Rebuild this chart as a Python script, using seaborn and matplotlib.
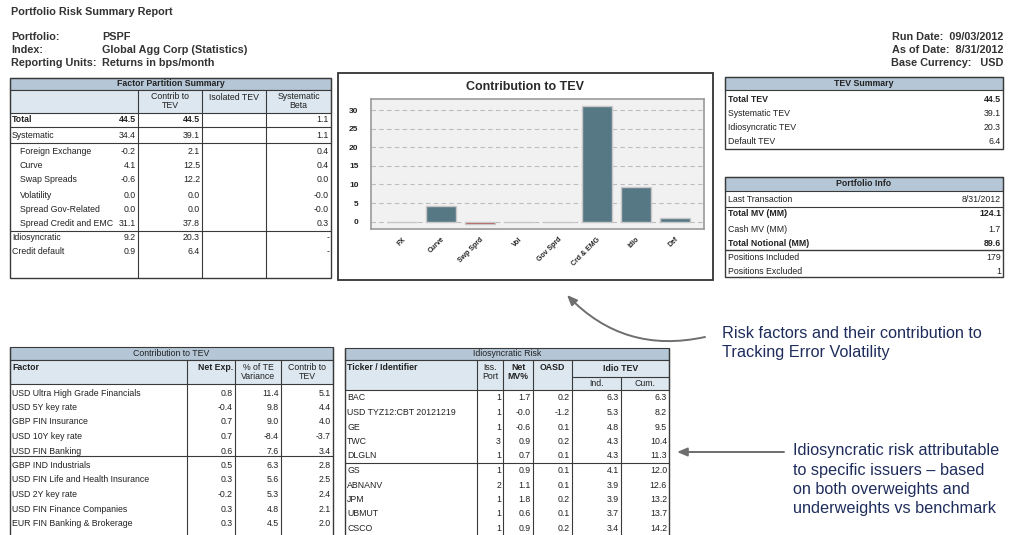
import matplotlib
matplotlib.use("Agg")
import matplotlib.pyplot as plt
import seaborn as sns
import pandas as pd
from matplotlib.patches import Rectangle

sns.set_style("white")
plt.rcParams['font.family'] = ['Liberation Sans', 'DejaVu Sans']

# ---------------- data ----------------
chart_categories = ["FX", "Curve", "Swp Sprd", "Vol", "Gov Sprd", "Crd & EMG", "Idio", "Def"]
chart_contrib = [-0.2, 4.1, -0.6, 0.0, 0.0, 31.1, 9.2, 0.9]

fp_rows = ["Total", "Systematic", "Foreign Exchange", "Curve", "Swap Spreads", "Volatility",
           "Spread Gov-Related", "Spread Credit and EMC", "Idiosyncratic", "Credit default"]
fp_contrib = ["44.5", "34.4", "-0.2", "4.1", "-0.6", "0.0", "0.0", "31.1", "9.2", "0.9"]
fp_isolated = ["44.5", "39.1", "2.1", "12.5", "12.2", "0.0", "0.0", "37.8", "20.3", "6.4"]
fp_beta = ["1.1", "1.1", "0.4", "0.4", "0.0", "-0.0", "-0.0", "0.3", "-", "-"]

tev_labels = ["Total TEV", "Systematic TEV", "Idiosyncratic TEV", "Default TEV"]
tev_values = ["44.5", "39.1", "20.3", "6.4"]

pi_labels = ["Last Transaction", "Total MV (MM)", "Cash MV (MM)", "Total Notional (MM)",
             "Positions Included", "Positions Excluded"]
pi_values = ["8/31/2012", "124.1", "1.7", "89.6", "179", "1"]

ct_factors = ["USD Ultra High Grade Financials", "USD 5Y key rate", "GBP FIN Insurance",
              "USD 10Y key rate", "USD FIN Banking", "GBP IND Industrials",
              "USD FIN Life and Health Insurance", "USD 2Y key rate",
              "USD FIN Finance Companies", "EUR FIN Banking & Brokerage"]
ct_net_exp = ["0.8", "-0.4", "0.7", "0.7", "0.6", "0.5", "0.3", "-0.2", "0.3", "0.3"]
ct_pct_var = ["11.4", "9.8", "9.0", "-8.4", "7.6", "6.3", "5.6", "5.3", "4.8", "4.5"]
ct_contrib = ["5.1", "4.4", "4.0", "-3.7", "3.4", "2.8", "2.5", "2.4", "2.1", "2.0"]

ir_tickers = ["BAC", "USD TYZ12:CBT 20121219", "GE", "TWC", "DLGLN", "GS", "ABNANV",
              "JPM", "UBMUT", "CSCO"]
ir_iss = ["1", "1", "1", "3", "1", "1", "2", "1", "1", "1"]
ir_netmv = ["1.7", "-0.0", "-0.6", "0.9", "0.7", "0.9", "1.1", "1.8", "0.6", "0.9"]
ir_oasd = ["0.2", "-1.2", "0.1", "0.2", "0.1", "0.1", "0.1", "0.2", "0.1", "0.2"]
ir_ind = ["6.3", "5.3", "4.8", "4.3", "4.3", "4.1", "3.9", "3.9", "3.7", "3.4"]
ir_cum = ["6.3", "8.2", "9.5", "10.4", "11.3", "12.0", "12.6", "13.2", "13.7", "14.2"]

# ---------------- figure ----------------
W, H = 1010, 535
fig = plt.figure(figsize=(W / 100, H / 100), dpi=100)
fig.patch.set_facecolor("white")
ov = fig.add_axes([0, 0, 1, 1])
ov.set_xlim(0, W)
ov.set_ylim(H, 0)
ov.axis("off")

TXT = "#222222"
LINE = "#3a3a3a"
HDR = "#b5c7d7"
SUB = "#dce7ef"
FS = 6.3
HFS = 7.8
HCOL = "#333333"


def T(x, y, s, ha="left", fs=FS, bold=False, color=TXT, **kw):
    ov.text(x, y, s, ha=ha, va="center", fontsize=fs,
            fontweight="bold" if bold else "normal", color=color, **kw)


def hl(x0, x1, y, lw=0.8):
    ov.plot([x0, x1], [y, y], color=LINE, lw=lw, solid_capstyle="butt")


def vl(x, y0, y1, lw=0.8):
    ov.plot([x, x], [y0, y1], color=LINE, lw=lw, solid_capstyle="butt")


def box(x0, y0, x1, y1, fc, lw=0.8):
    ov.add_patch(Rectangle((x0, y0), x1 - x0, y1 - y0, facecolor=fc,
                           edgecolor=LINE, lw=lw))


# ---- header texts ----
T(11, 12, "Portfolio Risk Summary Report", fs=HFS, bold=True, color=HCOL)
for y, a, b in [(37, "Portfolio:", "PSPF"), (50, "Index:", "Global Agg Corp (Statistics)"),
                (62.5, "Reporting Units:", "Returns in bps/month")]:
    T(11, y, a, fs=HFS, bold=True, color=HCOL)
    T(102, y, b, fs=HFS, bold=True, color=HCOL)
T(1003, 37, "Run Date:  09/03/2012", ha="right", fs=HFS, bold=True, color=HCOL)
T(1003, 50, "As of Date:  8/31/2012", ha="right", fs=HFS, bold=True, color=HCOL)
T(1003, 62.5, "Base Currency:   USD", ha="right", fs=HFS, bold=True, color=HCOL)

# ---- Factor Partition Summary ----
L, R = 10, 331
cols = [138, 202, 266]
box(L, 78, R, 90, HDR)
T((L + R) / 2, 84, "Factor Partition Summary", ha="center", bold=True)
box(L, 90, R, 113, SUB)
for c in cols:
    vl(c, 90, 278)
T((138 + 202) / 2, 101, "Contrib to\nTEV", ha="center", linespacing=0.95)
T((202 + 266) / 2, 98, "Isolated TEV", ha="center")
T((266 + R) / 2, 101, "Systematic\nBeta", ha="center", linespacing=0.95)
fp_y = [120, 135, 151, 165, 180, 195, 210, 224, 238, 252]
for i, (lab, a, b, c) in enumerate(zip(fp_rows, fp_contrib, fp_isolated, fp_beta)):
    y = fp_y[i]
    indent = 20 if 2 <= i <= 7 else 12
    T(indent, y, lab, bold=(i == 0))
    T(136, y, a, ha="right", bold=(i == 0))
    T(200, y, b, ha="right", bold=(i == 0))
    T(329, y, c, ha="right")
for y in [127, 143, 231]:
    hl(L, R, y)
ov.add_patch(Rectangle((L, 78), R - L, 200, facecolor="none", edgecolor=LINE, lw=1.0))

# ---- Chart box ----
ov.add_patch(Rectangle((338, 73), 375, 207, facecolor="white", edgecolor="#333333", lw=1.3))
T(525, 87, "Contribution to TEV", ha="center", fs=9, bold=True, color="#2a2a2a")

# ---- TEV Summary ----
L2, R2 = 725, 1003
box(L2, 77, R2, 90, HDR)
T((L2 + R2) / 2, 83.5, "TEV Summary", ha="center", bold=True)
for i, (lab, v) in enumerate(zip(tev_labels, tev_values)):
    y = 99 + i * 14.3
    T(L2 + 3, y, lab, bold=(i == 0))
    T(R2 - 2, y, v, ha="right", bold=(i == 0))
ov.add_patch(Rectangle((L2, 77), R2 - L2, 72, facecolor="none", edgecolor=LINE, lw=1.0))

# ---- Portfolio Info ----
box(L2, 177, R2, 191, HDR)
T((L2 + R2) / 2, 184, "Portfolio Info", ha="center", bold=True)
pi_y = [199, 214, 229, 243, 258, 272]
for i, (lab, v) in enumerate(zip(pi_labels, pi_values)):
    b = i in (1, 3)
    T(L2 + 3, pi_y[i], lab, bold=b)
    T(R2 - 2, pi_y[i], v, ha="right", bold=b)
hl(L2, R2, 206.5)
hl(L2, R2, 250, lw=1.0)
ov.add_patch(Rectangle((L2, 177), R2 - L2, 100, facecolor="none", edgecolor=LINE, lw=1.0))

# ---- Callouts ----
NAVY = "#1f2d5c"
CFS = 11.7
T(722, 334, "Risk factors and their contribution to", fs=CFS, color=NAVY)
T(722, 353, "Tracking Error Volatility", fs=CFS, color=NAVY)
for k, s in enumerate(["Idiosyncratic risk attributable", "to specific issuers \u2013 based",
                       "on both overweights and", "underweights vs benchmark"]):
    T(793, 451 + k * 19.2, s, fs=CFS, color=NAVY)
ov.annotate("", xy=(567, 295), xytext=(705, 337),
            arrowprops=dict(arrowstyle="-|>,head_length=0.6,head_width=0.25", color="#6e6e6e",
                            lw=1.4, connectionstyle="arc3,rad=-0.28", shrinkA=0, shrinkB=0))
ov.annotate("", xy=(677, 452), xytext=(784, 452),
            arrowprops=dict(arrowstyle="-|>,head_length=0.6,head_width=0.25", color="#6e6e6e",
                            lw=1.4, shrinkA=0, shrinkB=0))

# ---- Contribution to TEV table ----
L3, R3 = 10, 333
c3 = [187, 235, 281]
box(L3, 347, R3, 360, HDR)
T((L3 + R3) / 2, 353.5, "Contribution to TEV", ha="center")
box(L3, 360, R3, 384, SUB)
for c in c3:
    vl(c, 360, 536)
T(L3 + 2, 367, "Factor", bold=True)
T(c3[1] - 2, 367, "Net Exp.", ha="right", bold=True)
T((c3[1] + c3[2]) / 2, 372, "% of TE\nVariance", ha="center", linespacing=0.95)
T((c3[2] + R3) / 2, 372, "Contrib to\nTEV", ha="center", linespacing=0.95)
for i in range(len(ct_factors)):
    y = 393 + i * 14.5
    T(L3 + 2, y, ct_factors[i])
    T(c3[1] - 2, y, ct_net_exp[i], ha="right")
    T(c3[2] - 2, y, ct_pct_var[i], ha="right")
    T(R3 - 2, y, ct_contrib[i], ha="right")
hl(L3, R3, 456)
vl(L3, 347, 536, lw=1.0)
vl(R3, 347, 536, lw=1.0)

# ---- Idiosyncratic Risk table ----
L4, R4 = 345, 669
c4 = [477, 503, 533, 572, 621]
box(L4, 348, R4, 360, HDR)
T((L4 + R4) / 2, 354, "Idiosyncratic Risk", ha="center")
box(L4, 360, R4, 390, SUB)
for c in c4[:4]:
    vl(c, 360, 536)
vl(c4[4], 377, 536)
hl(c4[3], R4, 377)
T(L4 + 2, 367, "Ticker / Identifier", bold=True)
T((c4[0] + c4[1]) / 2, 372, "Iss.\nPort", ha="center", linespacing=0.95)
T((c4[1] + c4[2]) / 2, 372, "Net\nMV%", ha="center", linespacing=0.95, bold=True)
T((c4[2] + c4[3]) / 2, 367, "OASD", ha="center", bold=True)
T((c4[3] + R4) / 2, 368.5, "Idio TEV", ha="center", bold=True)
T((c4[3] + c4[4]) / 2, 383.5, "Ind.", ha="center")
T((c4[4] + R4) / 2, 383.5, "Cum.", ha="center")
for i in range(len(ir_tickers)):
    y = 398 + i * 14.5
    T(L4 + 2, y, ir_tickers[i])
    T(c4[1] - 2, y, ir_iss[i], ha="right")
    T(c4[2] - 2, y, ir_netmv[i], ha="right")
    T(c4[3] - 2, y, ir_oasd[i], ha="right")
    T(c4[4] - 2, y, ir_ind[i], ha="right")
    T(R4 - 2, y, ir_cum[i], ha="right")
hl(L4, R4, 463)
vl(L4, 348, 536, lw=1.0)
vl(R4, 348, 536, lw=1.0)

# ---- Bar chart ----
ax = fig.add_axes([371 / W, 1 - 229 / H, 333 / W, 130 / H])
df = pd.DataFrame({"factor": chart_categories, "contrib": chart_contrib})
bar_colors = ["#b23a3a" if v < 0 else "#567884" for v in chart_contrib]
sns.barplot(data=df, x="factor", y="contrib", hue="factor", palette=bar_colors,
            legend=False, width=0.76, saturation=1, edgecolor="#c8c8c8", linewidth=1.0, ax=ax)
ax.set_facecolor("#f1f1f1")
ax.set_xlim(-0.8, 7.75)
ax.set_ylim(-2, 33)
ax.set_yticks([0, 5, 10, 15, 20, 25, 30])
ax.yaxis.grid(True, linestyle=(0, (4, 3)), color="#bdbdbd", lw=0.8)
ax.set_axisbelow(True)
ax.set_xlabel("")
ax.set_ylabel("")
for s in ax.spines.values():
    s.set_color("#9a9a9a")
    s.set_linewidth(1.2)
ax.tick_params(axis="y", length=0, pad=9, labelsize=6, labelcolor="#222222")
ax.tick_params(axis="x", length=0, pad=5, labelsize=5, labelcolor="#222222")
for lab in ax.get_yticklabels():
    lab.set_fontweight("bold")
for lab in ax.get_xticklabels():
    lab.set_rotation(45)
    lab.set_ha("right")
    lab.set_rotation_mode("anchor")
    lab.set_fontweight("bold")

fig.savefig("out.png", dpi=100, facecolor="white")
